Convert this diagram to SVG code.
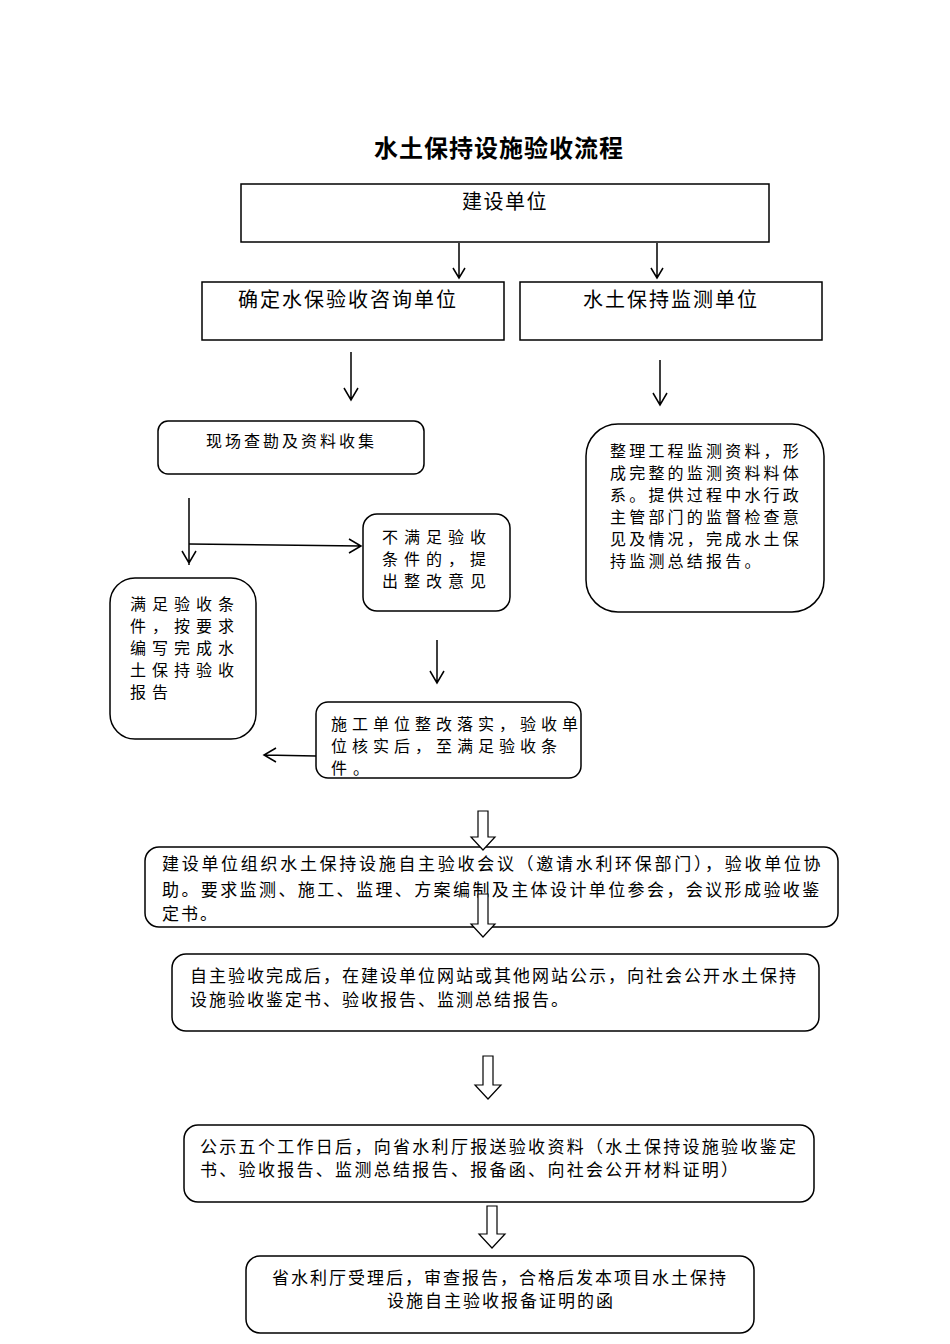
<svg xmlns="http://www.w3.org/2000/svg" width="950" height="1344" viewBox="0 0 950 1344">
<style>
text{font-family:"Noto Sans CJK SC","Noto Sans",sans-serif;fill:#000;font-size:17px;letter-spacing:2px}
.t{font-size:24px;font-weight:bold;letter-spacing:1px}
.h{font-size:20px;letter-spacing:1.5px}
.b{fill:#fff;stroke:#000;stroke-width:1.5}
.l{fill:none;stroke:#000;stroke-width:1.5}
.ba{fill:#fff;stroke:#000;stroke-width:1.2}
.s{font-size:16px;letter-spacing:6px}
.s3{font-size:16px;letter-spacing:3px}
.m{font-size:16px;letter-spacing:3.2px}
</style>
<rect width="950" height="1344" fill="#fff"/>
<text x="374" y="157" class="t">水土保持设施验收流程</text>
<g id="n1"><rect class="b" x="241" y="184" width="528" height="58"/><text x="462" y="209" class="h">建设单位</text></g>
<g id="n2"><rect class="b" x="202" y="282" width="302" height="58"/><text x="238" y="307" class="h" style="letter-spacing:2px">确定水保验收咨询单位</text></g>
<g id="n3"><rect class="b" x="520" y="282" width="302" height="58"/><text x="583" y="307" class="h" style="letter-spacing:2px">水土保持监测单位</text></g>
<g id="n4"><rect class="b" x="158" y="421" width="266" height="53" rx="10"/><text x="206" y="447" class="s3">现场查勘及资料收集</text></g>
<g id="n5"><rect class="b" x="586" y="424" width="238" height="188" rx="32"/>
<text x="610" y="457" class="m">整理工程监测资料，形</text><text x="610" y="479" class="m">成完整的监测资料料体</text><text x="610" y="501" class="m">系。提供过程中水行政</text><text x="610" y="523" class="m">主管部门的监督检查意</text><text x="610" y="545" class="m">见及情况，完成水土保</text><text x="610" y="567" class="m">持监测总结报告。</text></g>
<g id="n6"><rect class="b" x="363" y="514" width="147" height="97" rx="14"/>
<text x="382" y="543" class="s">不满足验收</text><text x="382" y="565" class="s">条件的，提</text><text x="382" y="587" class="s">出整改意见</text></g>
<g id="n7"><rect class="b" x="110" y="578" width="146" height="161" rx="25"/>
<text x="130" y="610" class="s">满足验收条</text><text x="130" y="632" class="s">件，按要求</text><text x="130" y="654" class="s">编写完成水</text><text x="130" y="676" class="s">土保持验收</text><text x="130" y="698" class="s">报告</text></g>
<g id="n8"><rect class="b" x="316" y="702" width="265" height="76" rx="12"/>
<text x="331" y="730" class="s" style="letter-spacing:5px">施工单位整改落实，验收单</text><text x="331" y="752" class="s" style="letter-spacing:5px">位核实后，至满足验收条</text><text x="331" y="774" class="s">件。</text></g>
<g id="n9"><rect class="b" x="145" y="847" width="693" height="80" rx="14"/>
<text x="162" y="870" style="letter-spacing:2.7px">建设单位组织水土保持设施自主验收会议（邀请水利环保部门），验收单位协</text>
<text x="162" y="896" style="letter-spacing:2.4px">助。要求监测、施工、监理、方案编制及主体设计单位参会，会议形成验收鉴</text>
<text x="162" y="920">定书。</text></g>
<g id="n10"><rect class="b" x="172" y="954" width="647" height="77" rx="14"/>
<text x="190" y="982">自主验收完成后，在建设单位网站或其他网站公示，向社会公开水土保持</text>
<text x="190" y="1006">设施验收鉴定书、验收报告、监测总结报告。</text></g>
<g id="n11"><rect class="b" x="184" y="1125" width="630" height="77" rx="14"/>
<text x="200" y="1153" style="letter-spacing:2.3px">公示五个工作日后，向省水利厅报送验收资料（水土保持设施验收鉴定</text>
<text x="200" y="1176" style="letter-spacing:2.3px">书、验收报告、监测总结报告、报备函、向社会公开材料证明）</text></g>
<g id="n12"><rect class="b" x="246" y="1256" width="508" height="77" rx="14"/>
<text x="272" y="1284">省水利厅受理后，审查报告，合格后发本项目水土保持</text>
<text x="387" y="1307">设施自主验收报备证明的函</text></g>
<g id="connectors">
<path class="l" d="M459 243V278M453 268l6 10l6-10"/>
<path class="l" d="M657 243V278M651 268l6 10l6-10"/>
<path class="l" d="M351 352V400M344 388l7 12l7-12"/>
<path class="l" d="M660 360V405M653 393l7 12l7-12"/>
<path class="l" d="M189 498V565M182 551l7 12l7-12"/>
<path class="l" d="M189 544L361 546M349 539l12 7l-12 7"/>
<path class="l" d="M437 640V683M430 671l7 12l7-12"/>
<path class="l" d="M316 756L264 755M276 748l-12 7l12 7"/>
<path class="ba" d="M478 811h10v26h7l-12 13l-12-13h7z"/>
<path class="ba" d="M478 894h10v30h7l-12 13l-12-13h7z"/>
<path class="ba" d="M483 1056h10v29h8l-13 14l-13-14h8z"/>
<path class="ba" d="M487 1206h10v28h8l-13 14l-13-14h8z"/>
</g>
</svg>
